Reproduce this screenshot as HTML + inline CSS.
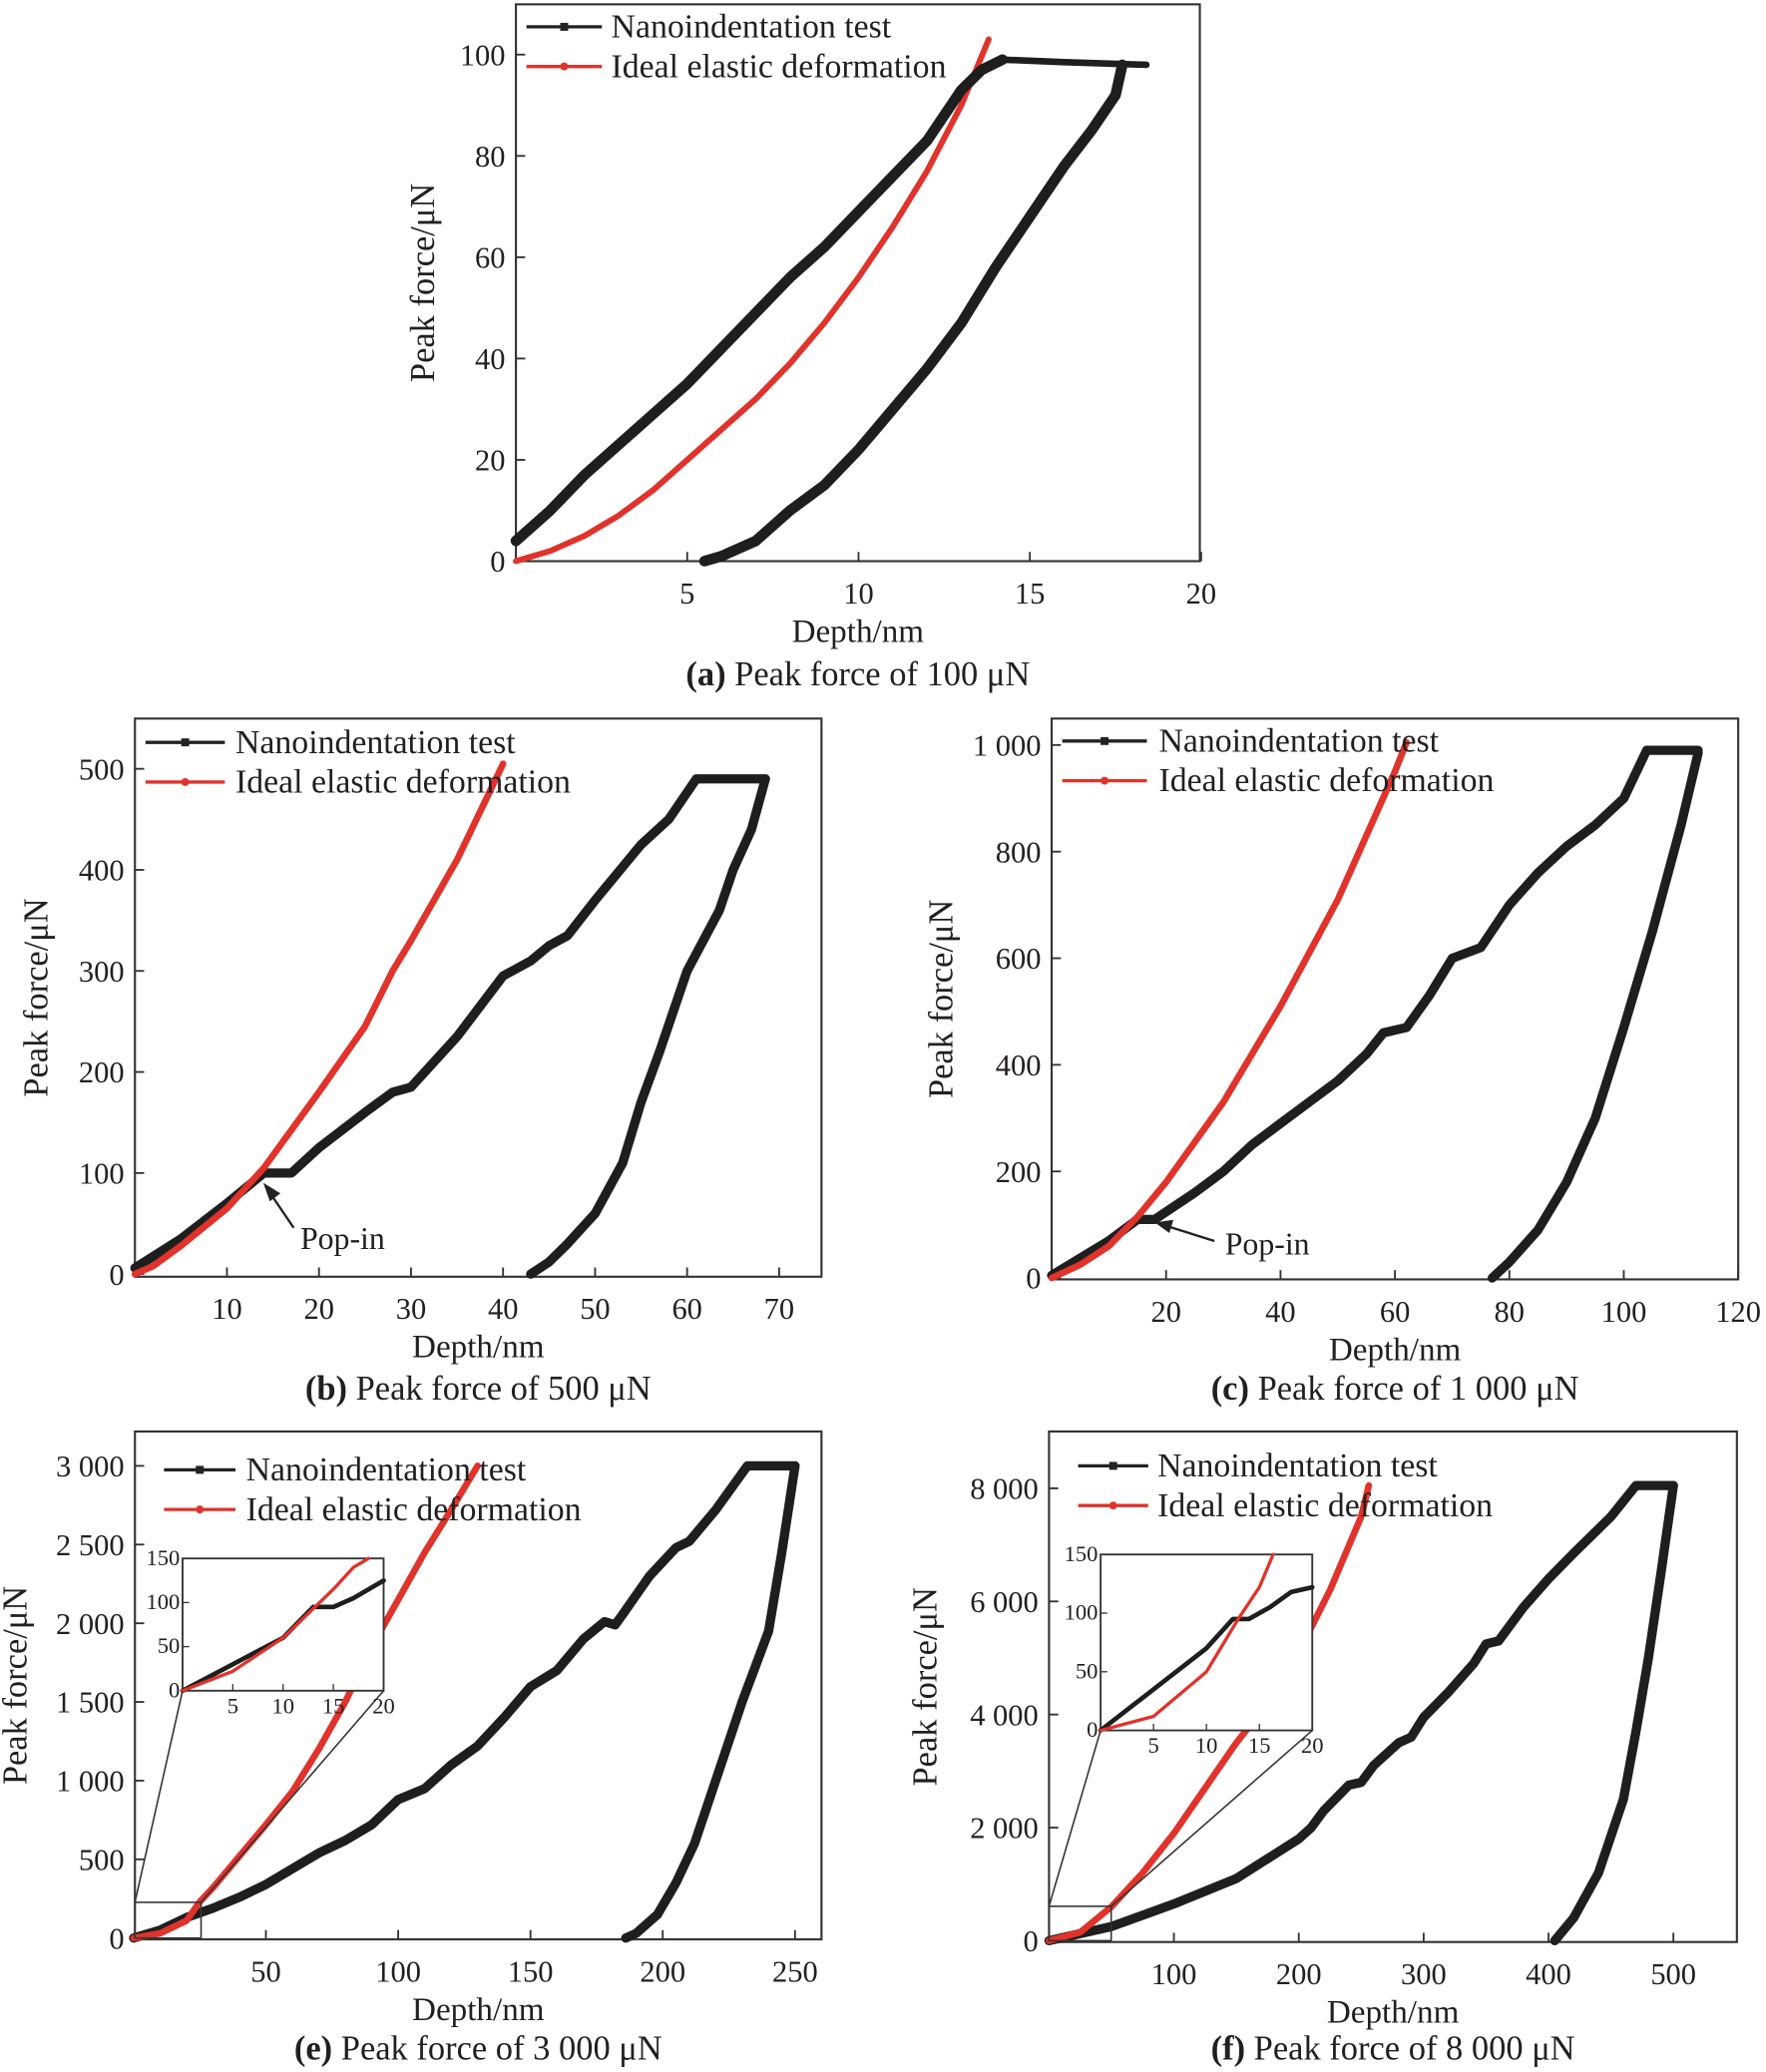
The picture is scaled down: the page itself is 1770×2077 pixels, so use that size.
<!DOCTYPE html>
<html><head><meta charset="utf-8">
<style>
html,body{margin:0;padding:0;background:#fff;}
svg{display:block;font-family:"Liberation Serif",serif;}
</style></head>
<body>
<svg id="fig" xmlns="http://www.w3.org/2000/svg" width="1770" height="2077" viewBox="0 0 1335 1566"></svg>
<script>
// ---- data (depth nm, force uN) ----
const aLoadX=[0,1,2,3,4,5,6,7,8,9,10,11,12,13,13.6,14.2];
const aLoadY=[4,10,17,23,29,35,42,49,56,62,69,76,83,93,97,99];
const aHoldX=[14.2,16,18.4];
const aHoldY=[99,98.5,98];
const aUnX=[17.7,17.5,16.8,16,15,14,13,12,11,10,9,8,7,6,5.5];
const aUnY=[98,92,85,78,68,58,47,38,30,22,15,10,4,1,0];
const aRedX=[0,1,2,3,4,5,6,7,8,9,10,11,12,13,13.8];
const aRedY=[0,2,5,9,14,20,26,32,39,47,56,66,77,90,103];

const bLoadX=[0,5,10,14,17,20,25,28,30,35,40,43,45,47,50,55,58,61,68.5];
const bLoadY=[6,35,70,100,100,125,160,180,185,235,295,310,325,335,370,425,450,490,490];
const bUnX=[68.5,67,65,63.5,60,57,55,53,50,47,45,43];
const bUnY=[490,440,400,360,300,220,170,110,60,30,12,0];
const bRedX=[0,2,5,10,14,20,25,28,30,35,40];
const bRedY=[0,8,28,65,105,180,245,300,330,410,505];

const cLoadX=[0,10,15,18,25,30,35,40,45,50,55,58,62,66,70,75,80,85,90,95,100,104,113];
const cLoadY=[5,70,110,110,160,200,250,290,330,370,420,460,470,530,600,620,700,760,810,850,900,990,990];
const cUnX=[113,110,105,100,95,90,85,80,77];
const cUnY=[985,850,650,470,300,180,90,30,0];
const cRedX=[0,5,10,15,20,30,40,50,60,62];
const cRedY=[0,25,60,115,180,330,510,710,950,1005];

const eLoadX=[0,10,20,30,40,50,60,70,80,90,100,110,120,130,140,150,160,170,178,182,185,195,205,210,220,232,250];
const eLoadY=[0,50,130,190,260,340,440,540,620,720,880,950,1100,1220,1400,1597,1700,1900,2010,1990,2060,2300,2480,2520,2720,3000,3000];
const eUnX=[250,245,240,230,220,212,205,198,190,186];
const eUnY=[3000,2450,1950,1500,1000,600,350,150,30,0];
const eRedX=[0,10,20,25,30,40,50,60,70,80,90,100,110,120,130];
const eRedY=[0,30,110,230,320,520,720,930,1200,1500,1850,2150,2450,2720,3000];
const eInBlackX=[0,5,10,13,15,17,20];
const eInBlackY=[0,30,60,95,95,105,125];
const eInRedX=[0,5,10,13,15,17,18.5];
const eInRedY=[0,22,60,93,115,140,150];

const fLoadX=[0,50,100,150,200,210,220,240,250,260,280,290,300,320,340,350,360,380,400,420,450,470,500];
const fLoadY=[0,250,650,1100,1800,2000,2300,2750,2800,3100,3500,3600,3950,4400,4900,5250,5300,5900,6400,6850,7500,8050,8050];
const fUnX=[500,490,480,470,460,440,420,405];
const fUnY=[8050,6500,5000,3700,2500,1200,400,0];
const fRedX=[0,25,50,75,100,125,150,175,200,225,250,256];
const fRedY=[0,150,600,1200,1900,2700,3500,4200,5100,6200,7500,8050];
const fInBlackX=[0,5,10,12.5,14,16,18,20];
const fInBlackY=[0,35,70,95,95,105,118,122];
const fInRedX=[0,5,10,13,15,16.3];
const fInRedY=[0,12,50,95,122,150];

const svg=document.getElementById('fig');
const NS='http://www.w3.org/2000/svg';
function mk(tag,attrs,parent){const e=document.createElementNS(NS,tag);for(const k in attrs)e.setAttribute(k,attrs[k]);(parent||svg).appendChild(e);return e;}
function txt(s,x,y,size,anchor,parent,extra){const t=mk('text',Object.assign({x:x,y:y,'font-size':size,'text-anchor':anchor||'start',fill:'#231f20'},extra||{}),parent);t.textContent=s;return t;}
function scale(d0,d1,p0,p1){return v=>p0+(v-d0)*(p1-p0)/(d1-d0);}
function line(xs,ys,sx,sy,color,w,g,name){
  let d='';for(let i=0;i<xs.length;i++){d+=(i?'L':'M')+sx(xs[i]).toFixed(1)+','+sy(ys[i]).toFixed(1);}
  const p=mk('path',{d:d,fill:'none',stroke:color,'stroke-width':w,'stroke-linejoin':'round','stroke-linecap':'round'},g);
  
  
  return p;
}
function panel(o){
  const g=mk('g',{});
  
  
  const sx=scale(o.xd[0],o.xd[1],o.x0,o.x1), sy=scale(o.yd[0],o.yd[1],o.y0,o.y1);
  mk('rect',{x:o.bx0,y:o.by0,width:o.bx1-o.bx0,height:o.by1-o.by0,fill:'none',stroke:'#333','stroke-width':1.6},g);
  o.xt.forEach((v,i)=>{const X=sx(v);mk('line',{x1:X,x2:X,y1:o.by1,y2:o.by1-7,stroke:'#333','stroke-width':1.4},g);
    const t=txt(o.xl[i],X,o.by1+32,23,'middle',g);});
  o.yt.forEach((v,i)=>{const Y=sy(v);mk('line',{x1:o.bx0,x2:o.bx0+7,y1:Y,y2:Y,stroke:'#333','stroke-width':1.4},g);
    const t=txt(o.yl[i],o.bx0-8,Y+8,23,'end',g);});
  const xt=txt('Depth/nm',(o.bx0+o.bx1)/2,o.by1+61,25,'middle',g);
  const yt=txt('Peak force/\u03bcN',0,0,26,'middle',g,{transform:'translate('+o.ylx+','+((o.by0+o.by1)/2)+') rotate(-90)'});
  
  const cap=mk('text',{x:(o.bx0+o.bx1)/2,y:o.capY,'font-size':26,'text-anchor':'middle',fill:'#231f20'},g);
  
  const b=mk('tspan',{'font-weight':'bold'},cap);b.textContent=o.capL;
  const r=mk('tspan',{},cap);r.textContent=' '+o.capT;
  return {g,sx,sy};
}
function legend(g,lx0,lx1,y1,y2,tx){
  const l1=mk('g',{},g);
  mk('line',{x1:lx0,x2:lx1,y1:y1,y2:y1,stroke:'#222','stroke-width':2.5},l1);
  mk('rect',{x:(lx0+lx1)/2-3,y:y1-3,width:6,height:6,fill:'#222'},l1);
  txt('Nanoindentation test',tx,y1+8,25.5,'start',l1);
  const l2=mk('g',{},g);
  mk('line',{x1:lx0,x2:lx1,y1:y2,y2:y2,stroke:'#e0332b','stroke-width':2.5},l2);
  mk('circle',{cx:(lx0+lx1)/2,cy:y2,r:3,fill:'#e0332b'},l2);
  txt('Ideal elastic deformation',tx,y2+8,25.5,'start',l2);
}
const BLK='#1e1e1e', RED='#e0332b';

// (a)
let P=panel({name:'panel-a',bx0:390,bx1:907,by0:3,by1:424,x0:390,x1:908,xd:[0,20],y0:424,y1:41,yd:[0,100],
  xt:[5,10,15,20],xl:['5','10','15','20'],yt:[0,20,40,60,80,100],yl:['0','20','40','60','80','100'],ylx:328,capY:518,capL:'(a)',capT:'Peak force of 100 \u03bcN'});
line(aRedX,aRedY,P.sx,P.sy,RED,4.5,P.g,'ideal-elastic-curve');
line(aLoadX,aLoadY,P.sx,P.sy,BLK,8,P.g,'loading-curve');
line(aHoldX,aHoldY,P.sx,P.sy,BLK,5,P.g,'hold-segment');
line(aUnX,aUnY,P.sx,P.sy,BLK,8,P.g,'unloading-curve');
legend(P.g,398,455,20,50,462);

// (b)
P=panel({name:'panel-b',bx0:102,bx1:621,by0:543,by1:965,x0:102,x1:589,xd:[0,70],y0:963,y1:581,yd:[0,500],
  xt:[10,20,30,40,50,60,70],xl:['10','20','30','40','50','60','70'],yt:[0,100,200,300,400,500],yl:['0','100','200','300','400','500'],ylx:36,capY:1058,capL:'(b)',capT:'Peak force of 500 \u03bcN'});
line(bLoadX,bLoadY,P.sx,P.sy,BLK,7,P.g,'loading-curve');
line(bUnX,bUnY,P.sx,P.sy,BLK,7,P.g,'unloading-curve');
line(bRedX,bRedY,P.sx,P.sy,RED,5,P.g,'ideal-elastic-curve');
legend(P.g,110,170,561,591,178);
mk('line',{x1:222,y1:928,x2:203,y2:900,stroke:'#222','stroke-width':1.8},P.g);
mk('polygon',{points:'199,894 212,902 204,908',fill:'#222'},P.g);
txt('Pop-in',227,944,24,'start',P.g);

// (c)
P=panel({name:'panel-c',bx0:795,bx1:1314,by0:543,by1:967,x0:795,x1:1314,xd:[0,120],y0:966,y1:563,yd:[0,1000],
  xt:[20,40,60,80,100,120],xl:['20','40','60','80','100','120'],yt:[0,200,400,600,800,1000],yl:['0','200','400','600','800','1 000'],ylx:720,capY:1058,capL:'(c)',capT:'Peak force of 1 000 \u03bcN'});
line(cLoadX,cLoadY,P.sx,P.sy,BLK,7,P.g,'loading-curve');
line(cUnX,cUnY,P.sx,P.sy,BLK,7,P.g,'unloading-curve');
line(cRedX,cRedY,P.sx,P.sy,RED,5,P.g,'ideal-elastic-curve');
legend(P.g,803,867,560,590,876);
mk('line',{x1:918,y1:938,x2:880,y2:926,stroke:'#222','stroke-width':1.8},P.g);
mk('polygon',{points:'873,924 887,922 884,932',fill:'#222'},P.g);
txt('Pop-in',926,948,24,'start',P.g);

// (e)
P=panel({name:'panel-e',bx0:102,bx1:621,by0:1082,by1:1466,x0:101,x1:601,xd:[0,250],y0:1465,y1:1108,yd:[0,3000],
  xt:[50,100,150,200,250],xl:['50','100','150','200','250'],yt:[0,500,1000,1500,2000,2500,3000],yl:['0','500','1 000','1 500','2 000','2 500','3 000'],ylx:20,capY:1557,capL:'(e)',capT:'Peak force of 3 000 \u03bcN'});
line(eLoadX,eLoadY,P.sx,P.sy,BLK,7,P.g,'loading-curve');
line(eUnX,eUnY,P.sx,P.sy,BLK,7,P.g,'unloading-curve');
line(eRedX,eRedY,P.sx,P.sy,RED,5,P.g,'ideal-elastic-curve');
legend(P.g,124,178,1111,1141,186);
mk('rect',{x:102,y:1438,width:50,height:27,fill:'none',stroke:'#333','stroke-width':1.2},P.g);
mk('line',{x1:102,y1:1438,x2:138,y2:1278,stroke:'#333','stroke-width':1.2},P.g);
mk('line',{x1:152,y1:1438,x2:290,y2:1278,stroke:'#333','stroke-width':1.2},P.g);
function inset(g,x0,x1,y0,y1,bx,by,rx,ry,name){
  const ig=mk('g',{},g);
  mk('rect',{x:x0,y:y0,width:x1-x0,height:y1-y0,fill:'#fff',stroke:'#333','stroke-width':1.4},ig);
  const sx=scale(0,20,x0,x1), sy=scale(0,150,y1,y0);
  [5,10,15,20].forEach(v=>{mk('line',{x1:sx(v),x2:sx(v),y1:y1,y2:y1-5,stroke:'#333','stroke-width':1},ig);txt(String(v),sx(v),y1+17,17,'middle',ig);});
  [0,50,100,150].forEach(v=>{mk('line',{x1:x0,x2:x0+5,y1:sy(v),y2:sy(v),stroke:'#333','stroke-width':1},ig);txt(String(v),x0-2,sy(v)+5,17,'end',ig);});
  line(bx,by,sx,sy,BLK,3.5,ig,'inset-loading-curve');
  line(rx,ry,sx,sy,RED,2.5,ig,'inset-ideal-curve');
}
inset(P.g,138,290,1178,1278,eInBlackX,eInBlackY,eInRedX,eInRedY,'inset-e');

// (f)
P=panel({name:'panel-f',bx0:793,bx1:1313,by0:1082,by1:1468,x0:793,x1:1265,xd:[0,500],y0:1467,y1:1125,yd:[0,8000],
  xt:[100,200,300,400,500],xl:['100','200','300','400','500'],yt:[0,2000,4000,6000,8000],yl:['0','2 000','4 000','6 000','8 000'],ylx:708,capY:1557,capL:'(f)',capT:'Peak force of 8 000 \u03bcN'});
line(fLoadX,fLoadY,P.sx,P.sy,BLK,7,P.g,'loading-curve');
line(fUnX,fUnY,P.sx,P.sy,BLK,7,P.g,'unloading-curve');
line(fRedX,fRedY,P.sx,P.sy,RED,5,P.g,'ideal-elastic-curve');
legend(P.g,815,868,1108,1138,875);
mk('rect',{x:793,y:1441,width:47,height:26,fill:'none',stroke:'#333','stroke-width':1.2},P.g);
mk('line',{x1:793,y1:1441,x2:832,y2:1308,stroke:'#333','stroke-width':1.2},P.g);
mk('line',{x1:840,y1:1441,x2:992,y2:1308,stroke:'#333','stroke-width':1.2},P.g);
inset(P.g,832,992,1175,1308,fInBlackX,fInBlackY,fInRedX,fInRedY,'inset-f');
</script>
</body></html>
